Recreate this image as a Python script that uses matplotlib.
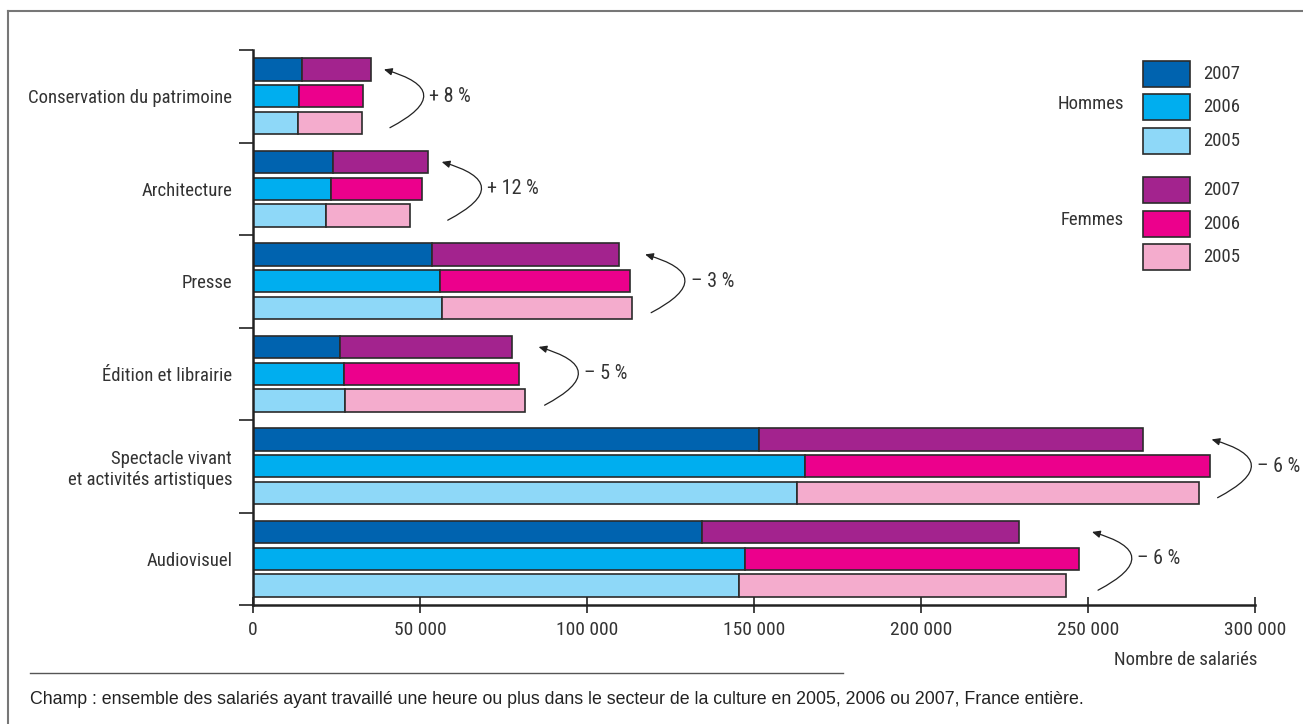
import matplotlib.pyplot as plt
from matplotlib.patches import Rectangle, FancyArrowPatch
from matplotlib.lines import Line2D
from matplotlib.ticker import FuncFormatter

secteurs = ["Conservation du patrimoine", "Architecture", "Presse",
            "Édition et librairie", "Spectacle vivant\net activités artistiques",
            "Audiovisuel"]
annees = ["2007", "2006", "2005"]

# salariés par secteur, une liste par année (2007, 2006, 2005)
hommes = {
    "2007": [14600, 24000, 53700, 26100, 151500, 134400],
    "2006": [13800, 23300, 56100, 27100, 165300, 147200],
    "2005": [13400, 21900, 56600, 27400, 162900, 145600],
}
femmes = {
    "2007": [20600, 28500, 55900, 51500, 114900, 94900],
    "2006": [19200, 27300, 56700, 52600, 121200, 100000],
    "2005": [19200, 25000, 56800, 54100, 120200, 97800],
}

couleurs_h = {"2007": "#0063af", "2006": "#00aeef", "2005": "#8ed8f8"}
couleurs_f = {"2007": "#a3238e", "2006": "#ec008c", "2005": "#f4accd"}

W, H = 1303, 724
narrow = ["Roboto Condensed", "Archivo Narrow", "DejaVu Sans"]
gris = "#333333"
fs = 13.5


def fx(px):
    return px / W


def fy(py):
    return 1 - py / H


fig = plt.figure(figsize=(W / 100, H / 100), dpi=100)
ax = fig.add_axes([fx(253), fy(605), fx(1255) - fx(253), fy(50) - fy(605)])

decal = {"2007": -0.29, "2006": 0.0, "2005": 0.29}
h = 0.24
for an in annees:
    ys = [i + decal[an] for i in range(len(secteurs))]
    ax.barh(ys, hommes[an], height=h, color=couleurs_h[an],
            edgecolor="#2b2b2b", linewidth=1.2)
    ax.barh(ys, femmes[an], left=hommes[an], height=h, color=couleurs_f[an],
            edgecolor="#2b2b2b", linewidth=1.2)

ax.set_xlim(0, 300000)
ax.set_ylim(len(secteurs) - 0.5, -0.5)

# flèches d'évolution 2005 -> 2007
for i in range(len(secteurs)):
    tot = {an: hommes[an][i] + femmes[an][i] for an in annees}
    xmax = max(tot.values())
    evo = round(100 * (tot["2007"] / tot["2005"] - 1))
    lab = ("+ " if evo > 0 else "\u2013 ") + f"{abs(evo)} %"
    x_haut = min(xmax + 4000, 287000)
    x_bas = x_haut + 1800
    arr = FancyArrowPatch((x_bas, i + 0.34), (x_haut, i - 0.29),
                          connectionstyle="arc3,rad=1.25",
                          arrowstyle="-|>,head_length=0.4,head_width=0.18",
                          color="#222222", lw=0.9, mutation_scale=12,
                          shrinkA=0, shrinkB=0)
    ax.add_patch(arr)
    ax.text(x_haut + 13600, i, lab, va="center", ha="left", fontsize=14.5,
            family=narrow, color=gris)

for s in ["top", "right"]:
    ax.spines[s].set_visible(False)
for s in ["left", "bottom"]:
    ax.spines[s].set_linewidth(1.8)
    ax.spines[s].set_color("#222222")

ax.set_yticks([k - 0.5 for k in range(len(secteurs) + 1)])
ax.set_yticklabels([])
ax.tick_params(axis="y", which="major", direction="out", length=10, width=1.2,
               color="#222222")
ax.set_yticks(range(len(secteurs)), minor=True)
ax.set_yticklabels(secteurs, minor=True, family=narrow, fontsize=fs, color=gris)
ax.tick_params(axis="y", which="minor", length=0, pad=15)

ax.set_xticks(range(0, 300001, 50000))
ax.xaxis.set_major_formatter(FuncFormatter(lambda v, p: f"{int(v):,}".replace(",", " ")))
ax.tick_params(axis="x", direction="inout", length=11, width=1.2, pad=6,
               labelsize=14, labelcolor=gris, color="#222222")
for t in ax.get_xticklabels():
    t.set_family(narrow)

fig.text(fx(1257), fy(660), "Nombre de salariés", ha="right", va="center",
         fontsize=fs, family=narrow, color=gris)

# légende
leg = [("2007", couleurs_h["2007"], 61), ("2006", couleurs_h["2006"], 94),
       ("2005", couleurs_h["2005"], 128), ("2007", couleurs_f["2007"], 177),
       ("2006", couleurs_f["2006"], 211), ("2005", couleurs_f["2005"], 244)]
for an, c, top in leg:
    fig.patches.append(Rectangle((fx(1143), fy(top + 26)), fx(47), 26 / H,
                                 transform=fig.transFigure, facecolor=c,
                                 edgecolor="#2b2b2b", linewidth=1.2))
    fig.text(fx(1203), fy(top + 13), an, ha="left", va="center", fontsize=fs,
             family=narrow, color=gris)
fig.text(fx(1124), fy(104), "Hommes", ha="right", va="center", fontsize=fs,
         family=narrow, color=gris)
fig.text(fx(1124), fy(220), "Femmes", ha="right", va="center", fontsize=fs,
         family=narrow, color=gris)

# cadre, filet et note
fig.add_artist(Line2D([fx(8), 1], [fy(11), fy(11)], color="#777777", lw=1.5))
fig.add_artist(Line2D([fx(8), fx(8)], [fy(11), 0], color="#777777", lw=1.5))
fig.add_artist(Line2D([fx(30), fx(843)], [fy(673), fy(673)], color="#555555", lw=1))
fig.text(fx(30), fy(700),
         "Champ : ensemble des salariés ayant travaillé une heure ou plus dans le secteur "
         "de la culture en 2005, 2006 ou 2007, France entière.",
         ha="left", va="center", fontsize=12.8,
         family=["Liberation Sans", "DejaVu Sans"], color="#222222")

fig.savefig("out.png", dpi=100)
